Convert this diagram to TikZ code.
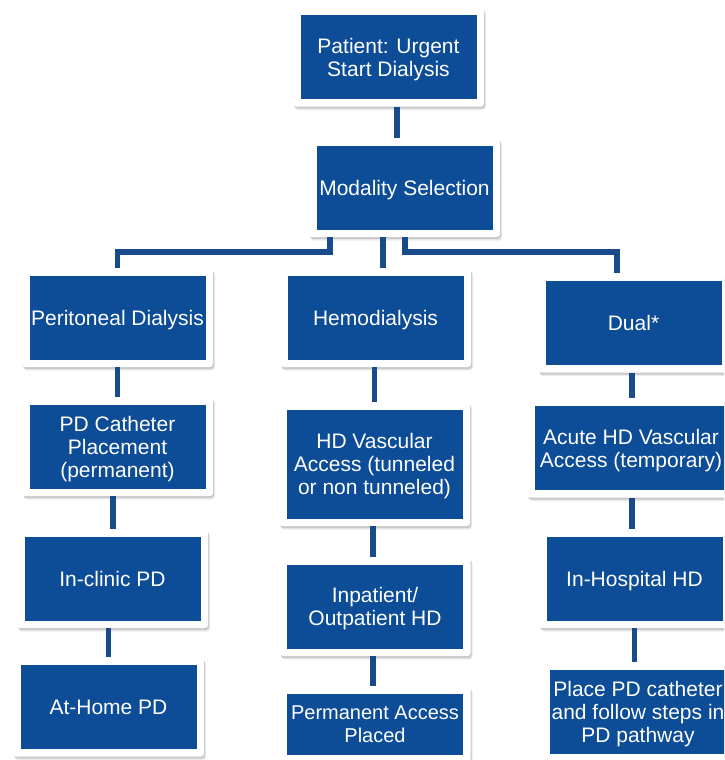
\documentclass[tikz,border=0pt]{standalone}
\usepackage{fontspec}
\setsansfont{Liberation Sans}
\usetikzlibrary{shadows}
\definecolor{boxblue}{RGB}{13,76,151}
\definecolor{linkblue}{RGB}{25,74,140}

\begin{document}
\begin{tikzpicture}[x=1pt, y=-1pt,
		stepbox/.style={fill=white, rounded corners=3pt, minimum width=191pt, minimum height=99pt,
			inner sep=0pt, align=center, text=white, text depth=0pt, font=\sffamily\fontsize{21}{23}\selectfont,
			drop shadow={shadow xshift=2pt, shadow yshift=-3.5pt, opacity=0.08, fill=black},
			drop shadow={shadow xshift=1pt, shadow yshift=-2pt, opacity=0.15, fill=black},
			path picture={\fill[boxblue, sharp corners] ([shift={(7.5pt,-7.5pt)}]path picture bounding box.north west)
				rectangle ([shift={(-7.5pt,7.5pt)}]path picture bounding box.south east);}},
		link/.style={draw=linkblue, line width=5.5pt}]
	\useasboundingbox (0,0) rectangle (724,760);
	\clip (0,0) rectangle (724,760);

	% Top
	\node[stepbox] (patient) at (388.5,57) {Patient: Urgent\\Start Dialysis};
	\node[stepbox] (modality) at (404.5,187.5) {Modality Selection};

	% Peritoneal column
	\node[stepbox] (pd) at (117.5,317.5) {Peritoneal Dialysis};
	\node[stepbox] (pdcath) at (117.5,446.5) {PD Catheter\\Placement\\(permanent)};
	\node[stepbox] (clinic) at (112.5,578.5) {In-clinic PD};
	\node[stepbox] (home) at (108.5,707) {At-Home PD};

	% Hemodialysis column
	\node[stepbox] (hd) at (375.5,317.5) {Hemodialysis};
	\node[stepbox, minimum height=124pt] (hdaccess) at (374.5,464) {HD Vascular\\Access (tunneled\\or non tunneled)};
	\node[stepbox] (inpatient) at (375,606.5) {Inpatient/\\Outpatient HD};
	\node[stepbox, minimum height=76pt, font=\sffamily\fontsize{20}{23}\selectfont] (permanent) at (375,724) {Permanent Access\\Placed};

	% Dual column
	\node[stepbox] (dual) at (633.5,323) {Dual*};
	\node[stepbox, minimum width=208pt] (acute) at (631,448) {Acute HD Vascular\\Access (temporary)};
	\node[stepbox] (hospital) at (634.5,578.5) {In-Hospital HD};
	\node[stepbox] (placepd) at (638,712) {Place PD catheter\\and follow steps in\\PD pathway};

	% Links
	\coordinate (jtop) at ([xshift=8.5pt]patient.south);
	\draw[link] (jtop) -- (jtop |- modality.north);

	\coordinate (jleft) at ([xshift=-74.5pt]modality.south);
	\coordinate (jmid) at ([xshift=-21.5pt]modality.south);
	\coordinate (jright) at ([xshift=0.5pt]modality.south);
	\coordinate (jdual) at ([xshift=-16.5pt]dual.north);
	\draw[link] (jleft) -- ++(0,15) -| (pd.north);
	\draw[link] (jmid) -- (jmid |- hd.north);
	\draw[link] (jright) -- ++(0,15) -| (jdual);

	\coordinate (jclinic) at ([xshift=0.5pt]clinic.north);
	\draw[link] (pd.south) -- (pdcath.north);
	\draw[link] (jclinic |- pdcath.south) -- (jclinic);
	\draw[link] (home.north |- clinic.south) -- (home.north);

	\coordinate (jin) at ([xshift=-2pt]inpatient.north);
	\draw[link] (hdaccess.north |- hd.south) -- (hdaccess.north);
	\draw[link] (jin |- hdaccess.south) -- (jin);
	\draw[link] (jin |- inpatient.south) -- (jin |- permanent.north);

	\coordinate (jacute) at ([xshift=-1.5pt]dual.south);
	\draw[link] (jacute) -- (jacute |- acute.north);
	\draw[link] (jacute |- acute.south) -- (jacute |- hospital.north);
	\draw[link] (hospital.south) -- (hospital.south |- placepd.north);
\end{tikzpicture}
\end{document}
